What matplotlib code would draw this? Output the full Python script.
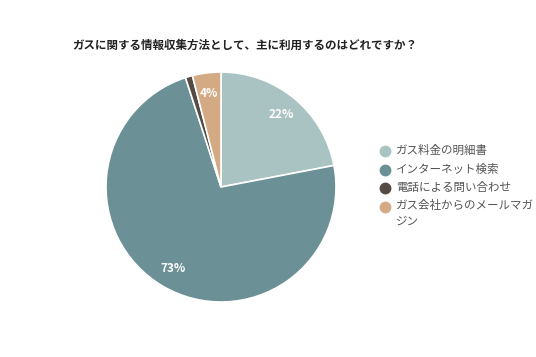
import matplotlib
matplotlib.use("Agg")
import matplotlib.pyplot as plt
from matplotlib.lines import Line2D

plt.rcParams['font.family'] = ['Noto Sans CJK JP', 'DejaVu Sans']

title = "ガスに関する情報収集方法として、主に利用するのはどれですか？"
categories = ["ガス料金の明細書", "インターネット検索", "電話による問い合わせ", "ガス会社からのメールマガジン"]
values = [22, 73, 1, 4]
colors = ["#a9c3c3", "#6b9096", "#564a45", "#d4aa84"]

W, H = 536, 357
fig = plt.figure(figsize=(W / 100, H / 100), dpi=100)

cx, cy, r = 221, 187, 115
ax = fig.add_axes([(cx - r) / W, (H - cy - r) / H, 2 * r / W, 2 * r / H])
wedges, texts, autotexts = ax.pie(
    values, colors=colors, startangle=90, counterclock=False,
    autopct=lambda p: f"{p:.0f}%" if p >= 2 else "", pctdistance=0.82,
    wedgeprops=dict(edgecolor="white", linewidth=1.2),
    textprops=dict(color="white", fontsize=8.5, fontweight="bold"))
ax.set_xlim(-1, 1)
ax.set_ylim(-1, 1)
ax.set_aspect("equal")

fig.text(72 / W, 1 - 45 / H, title, fontsize=8.3, fontweight="bold",
         color="#222222", va="center", ha="left")

def wrap(s, n=12):
    return s if len(s) <= n else s[:n] + "\n" + s[n:]

# legend drawn by hand so the marker sits on the first line of a wrapped label
y = 151
for name, c in zip(categories, colors):
    fig.add_artist(Line2D([385 / W], [1 - y / H], marker="o", markersize=7.5,
                          linestyle="", markerfacecolor=c, markeredgecolor=c,
                          transform=fig.transFigure))
    label = wrap(name)
    fig.text(396 / W, 1 - (y - 7) / H, label, fontsize=8.3, color="#555555",
             va="top", ha="left", linespacing=1.25)
    y += 18.5 + 13.5 * label.count("\n")

fig.savefig("out.png", dpi=100, facecolor="white")
